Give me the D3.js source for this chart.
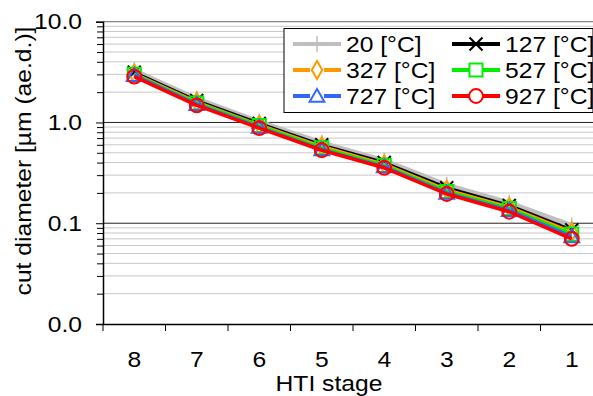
<!DOCTYPE html>
<html>
<head>
<meta charset="utf-8">
<script src="https://cdn.jsdelivr.net/npm/d3@7"></script>
<style>
  body { margin: 0; background: #fff; }
  text { font-family: Arial, "Liberation Sans", sans-serif; fill: #000; }
</style>
</head>
<body>
<svg id="chart" width="593" height="396"></svg>
<script>
// data
var stages   = ["8", "7", "6", "5", "4", "3", "2", "1"];
var names    = ["20 [°C]", "127 [°C]", "327 [°C]", "527 [°C]", "727 [°C]", "927 [°C]"];
var t20      = [3.30, 1.72, 1.02, 0.63, 0.42, 0.240, 0.160, 0.095];
var t127     = [3.15, 1.65, 0.98, 0.60, 0.40, 0.225, 0.150, 0.086];
var t327     = [3.05, 1.60, 0.95, 0.58, 0.385, 0.215, 0.145, 0.082];
var t527     = [3.00, 1.56, 0.93, 0.56, 0.375, 0.207, 0.140, 0.078];
var t727     = [2.95, 1.52, 0.90, 0.54, 0.365, 0.200, 0.135, 0.074];
var t927     = [2.85, 1.48, 0.88, 0.53, 0.355, 0.195, 0.130, 0.070];
var majorTicks = [0.01, 0.1, 1, 10];

var series = [t20, t127, t327, t527, t727, t927];
var COLORS = ["#bfbfbf", "#000000", "#ff9900", "#00ee00", "#3366ff", "#ff0000"];
var WIDTHS = [4.5, 3, 3, 3, 3, 3.5];
var LEFT = 103, RIGHT = 603, TOP = 21.7, BOTTOM = 324;
var FONT = "22px", STRETCH = 1.12;

// the reference glyphs are a bit wider than Arial, widen them a little
function stretch(sel) {
  sel.each(function () {
    var w = this.getComputedTextLength();
    d3.select(this).attr("textLength", w * STRETCH).attr("lengthAdjust", "spacingAndGlyphs");
  });
}

var svg = d3.select("#chart");

var x = d3.scaleBand().domain(stages).range([LEFT, RIGHT]);
var y = d3.scaleLog().domain([0.01, 10]).range([BOTTOM, TOP]);

var minorTicks = [];
for (var d = 0.01; d < 10; d *= 10) {
  for (var m = 2; m <= 9; m++) minorTicks.push(+(d * m).toPrecision(3));
}

// gridlines
svg.append("g").selectAll("line").data(minorTicks).join("line")
  .attr("x1", LEFT).attr("x2", RIGHT)
  .attr("y1", d => y(d)).attr("y2", d => y(d))
  .attr("stroke", "#c8c8c8").attr("stroke-width", 1);
svg.append("g").selectAll("line").data(majorTicks.slice(1)).join("line")
  .attr("x1", LEFT).attr("x2", RIGHT)
  .attr("y1", d => y(d)).attr("y2", d => y(d))
  .attr("stroke", d => d == 10 ? "#666" : "#222").attr("stroke-width", 1);

// y axis
var yAxis = svg.append("g").attr("transform", "translate(" + LEFT + ",0)")
  .call(d3.axisLeft(y).tickValues(majorTicks).tickFormat(d3.format(".1f"))
    .tickSize(7).tickPadding(14));
yAxis.call(g => g.select(".domain").attr("stroke", "#000").attr("stroke-width", 1.5));
yAxis.selectAll("text").style("font-size", FONT).call(stretch);
svg.append("g").attr("transform", "translate(" + LEFT + ",0)")
  .call(d3.axisLeft(y).tickValues(minorTicks).tickFormat("").tickSize(6))
  .call(g => g.select(".domain").remove());

// x axis
var xAxis = svg.append("g").attr("transform", "translate(0," + BOTTOM + ")")
  .call(d3.axisBottom(x).tickSize(0).tickPadding(27));
xAxis.select(".domain").attr("stroke", "#000").attr("stroke-width", 1.5);
xAxis.selectAll("text").style("font-size", FONT).call(stretch);
svg.append("g").selectAll("line").data(stages.concat(["end"])).join("line")
  .attr("x1", d => d == "end" ? x.range()[1] : x(d))
  .attr("x2", d => d == "end" ? x.range()[1] : x(d))
  .attr("y1", BOTTOM).attr("y2", BOTTOM + 7)
  .attr("stroke", "#000").attr("stroke-width", 1);

// axis titles
svg.append("text").attr("x", 329).attr("y", 391)
  .attr("text-anchor", "middle").style("font-size", FONT).text("HTI stage").call(stretch);
svg.append("text").attr("transform", "translate(31,161) rotate(-90)")
  .attr("text-anchor", "middle").style("font-size", FONT)
  .text("cut diameter [µm (ae.d.)]").call(stretch);

// markers (open, no fill)
function marker(sel, i) {
  var c = COLORS[i];
  if (i == 0) {
    sel.append("path").attr("d", "M-8,0H8M0,-8V8").attr("stroke", c).attr("stroke-width", 1.5).attr("fill", "none");
  } else if (i == 1) {
    sel.append("path").attr("d", "M-6.5,-6.5L6.5,6.5M-6.5,6.5L6.5,-6.5").attr("stroke", c).attr("stroke-width", 2).attr("fill", "none");
  } else {
    var types = [null, null, d3.symbolDiamond, d3.symbolSquare, d3.symbolTriangle, d3.symbolCircle];
    var sizes = [0, 0, 95, 170, 95, 150];
    sel.append("path").attr("d", d3.symbol().type(types[i]).size(sizes[i])())
      .attr("transform", i == 4 ? "translate(0,1.5)" : null)
      .attr("stroke", c).attr("stroke-width", 2).attr("fill", "none");
  }
}

var line = d3.line()
  .x((d, i) => x(stages[i]) + x.bandwidth() / 2)
  .y(d => y(d));

series.forEach(function (vals, i) {
  var g = svg.append("g");
  g.append("path").datum(vals)
    .attr("fill", "none").attr("stroke", COLORS[i])
    .attr("stroke-width", WIDTHS[i]).attr("stroke-linejoin", "round")
    .attr("d", line);
  g.selectAll("g.m").data(vals).join("g").attr("class", "m")
    .attr("transform", (d, j) => "translate(" + (x(stages[j]) + x.bandwidth() / 2) + "," + y(d) + ")")
    .each(function () { marker(d3.select(this), i); });
});

// legend
var lg = svg.append("g");
lg.append("rect").attr("x", 284).attr("y", 28.5).attr("width", 309).attr("height", 84)
  .attr("fill", "#fff").attr("stroke", "#000").attr("stroke-width", 1);
names.forEach(function (n, i) {
  var col = i % 2, row = Math.floor(i / 2);
  var lx = col == 0 ? 293 : 452, ly = 44 + row * 26;
  var item = lg.append("g");
  item.append("line").attr("x1", lx).attr("x2", lx + 48).attr("y1", ly).attr("y2", ly)
    .attr("stroke", COLORS[i]).attr("stroke-width", 4);
  var mk = item.append("g").attr("transform", "translate(" + (lx + 24) + "," + ly + ")");
  mk.append("rect").attr("x", -7).attr("y", -7).attr("width", 14).attr("height", 14)
    .attr("fill", i == 0 || i == 1 ? "none" : "#fff");
  marker(mk, i);
  item.append("text").attr("x", lx + 53).attr("y", ly + 8)
    .style("font-size", FONT).text(n).call(stretch);
});
</script>
</body>
</html>
